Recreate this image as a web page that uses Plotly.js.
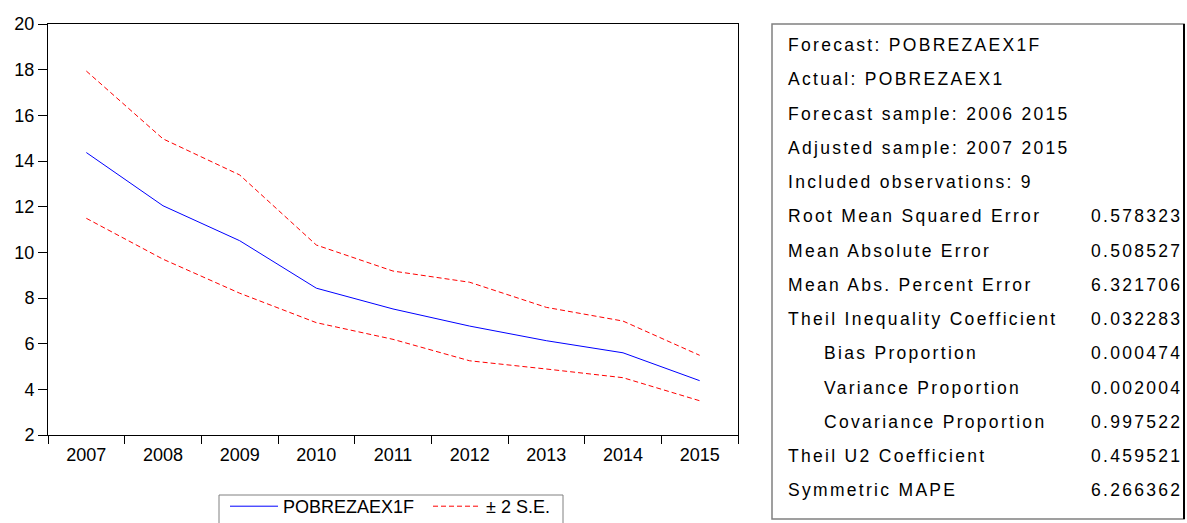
<!DOCTYPE html>
<html>
<head>
<meta charset="utf-8">
<script src="https://cdn.plot.ly/plotly-3.0.1.min.js"></script>
<style>
  html, body { margin: 0; padding: 0; background: #ffffff; }
  #chart { width: 1187px; height: 523px; }
  .annotation-text { letter-spacing: 2.3px; }
</style>
</head>
<body>
<div id="chart"></div>
<script>
// ---- data ----
const years = ['2007', '2008', '2009', '2010', '2011', '2012', '2013', '2014', '2015'];
const forecast = [14.37, 12.04, 10.51, 8.43, 7.52, 6.77, 6.13, 5.60, 4.38];
const upperSE  = [17.94, 14.97, 13.39, 10.32, 9.18, 8.69, 7.59, 6.99, 5.49];
const lowerSE  = [11.49, 9.70, 8.21, 6.92, 6.19, 5.25, 4.89, 4.51, 3.50];
const yTicks = [2, 4, 6, 8, 10, 12, 14, 16, 18, 20];

const statLabels = [
  'Forecast: POBREZAEX1F',
  'Actual: POBREZAEX1',
  'Forecast sample: 2006 2015',
  'Adjusted sample: 2007 2015',
  'Included observations: 9',
  'Root Mean Squared Error',
  'Mean Absolute Error',
  'Mean Abs. Percent Error',
  'Theil Inequality Coefficient',
  'Bias Proportion',
  'Variance Proportion',
  'Covariance Proportion',
  'Theil U2 Coefficient',
  'Symmetric MAPE'
];
const statValues = ['', '', '', '', '', '0.578323', '0.508527', '6.321706', '0.032283',
  '0.000474', '0.002004', '0.997522', '0.459521', '6.266362'];
const statIndent = [0, 0, 0, 0, 0, 0, 0, 0, 0, 1, 1, 1, 0, 0];

// ---- layout geometry (pixels) ----
const W = 1187, H = 523;
const PL = 48, PR = 738, PT = 24, PB = 435;
const pw = PR - PL, ph = PB - PT;
const px = v => (v - PL) / pw;
const py = v => (PB - v) / ph;

const FONT = 'Liberation Sans, Arial, sans-serif';

const traces = [
  {
    x: years, y: forecast, type: 'scatter', mode: 'lines',
    name: 'POBREZAEX1F', legend: 'legend',
    line: { color: '#0000ff', width: 1 }
  },
  {
    x: years, y: upperSE, type: 'scatter', mode: 'lines',
    name: '± 2 S.E.', legendgroup: 'se', legend: 'legend2',
    line: { color: '#ff0000', width: 1, dash: '5px,3px' }
  },
  {
    x: years, y: lowerSE, type: 'scatter', mode: 'lines',
    name: '± 2 S.E.', legendgroup: 'se', showlegend: false, legend: 'legend2',
    line: { color: '#ff0000', width: 1, dash: '5px,3px' }
  }
];

// table annotations
const annotations = [];
const rowTop = 45, rowStep = 34.25;
statLabels.forEach((lab, i) => {
  const yc = rowTop + i * rowStep;
  annotations.push({
    xref: 'paper', yref: 'paper',
    x: px(statIndent[i] ? 823 : 787), y: py(yc),
    xanchor: 'left', yanchor: 'middle',
    text: lab, showarrow: false, borderpad: 0,
    font: { family: FONT, size: 17.5, color: '#000000' }
  });
  if (statValues[i]) {
    annotations.push({
      xref: 'paper', yref: 'paper',
      x: px(1183), y: py(yc),
      xanchor: 'right', yanchor: 'middle',
      text: statValues[i], showarrow: false, borderpad: 0,
      font: { family: FONT, size: 17.5, color: '#000000' }
    });
  }
});

const shapes = [
  // statistics box
  { type: 'rect', xref: 'paper', yref: 'paper',
    x0: px(772), x1: px(1184), y0: py(519), y1: py(24),
    line: { color: '#808080', width: 1.5 }, fillcolor: 'rgba(0,0,0,0)' },
  { type: 'line', xref: 'paper', yref: 'paper',
    x0: px(1184), x1: px(1184), y0: py(519), y1: py(24),
    line: { color: '#000000', width: 2 } },
  // legend frame
  { type: 'rect', xref: 'paper', yref: 'paper',
    x0: px(219), x1: px(563), y0: py(530), y1: py(495),
    line: { color: '#808080', width: 1 }, fillcolor: 'rgba(0,0,0,0)' }
];

const legendCommon = {
  orientation: 'h', xanchor: 'left', yanchor: 'top',
  borderwidth: 0, bgcolor: 'rgba(0,0,0,0)',
  font: { family: FONT, size: 18, color: '#000000' },
  itemwidth: 48
};

const layout = {
  width: W, height: H,
  margin: { l: PL, r: W - PR, t: PT, b: H - PB, pad: 0, autoexpand: false },
  paper_bgcolor: '#ffffff', plot_bgcolor: '#ffffff',
  font: { family: FONT, size: 18, color: '#000000' },
  showlegend: true,
  legend: Object.assign({}, legendCommon, { x: px(225), y: py(488) }),
  legend2: Object.assign({}, legendCommon, { x: px(428), y: py(488) }),
  xaxis: {
    type: 'category', range: [-0.5, 8.5],
    tickson: 'boundaries', ticks: 'outside', ticklen: 8, tickcolor: '#000000', tickwidth: 1,
    showline: true, mirror: true, linecolor: '#000000', linewidth: 1,
    showgrid: false, zeroline: false, fixedrange: true, ticklabelstandoff: 3,
    tickfont: { family: FONT, size: 18, color: '#000000' }
  },
  yaxis: {
    range: [2, 20], tickvals: yTicks, ticktext: yTicks.map(String),
    ticks: 'outside', ticklen: 9, tickcolor: '#000000', tickwidth: 1,
    showline: true, mirror: true, linecolor: '#000000', linewidth: 1,
    showgrid: false, zeroline: false, fixedrange: true,
    tickfont: { family: FONT, size: 18, color: '#000000' }
  },
  annotations: annotations,
  shapes: shapes
};

Plotly.newPlot('chart', traces, layout, { displayModeBar: false, staticPlot: true });
</script>
</body>
</html>
